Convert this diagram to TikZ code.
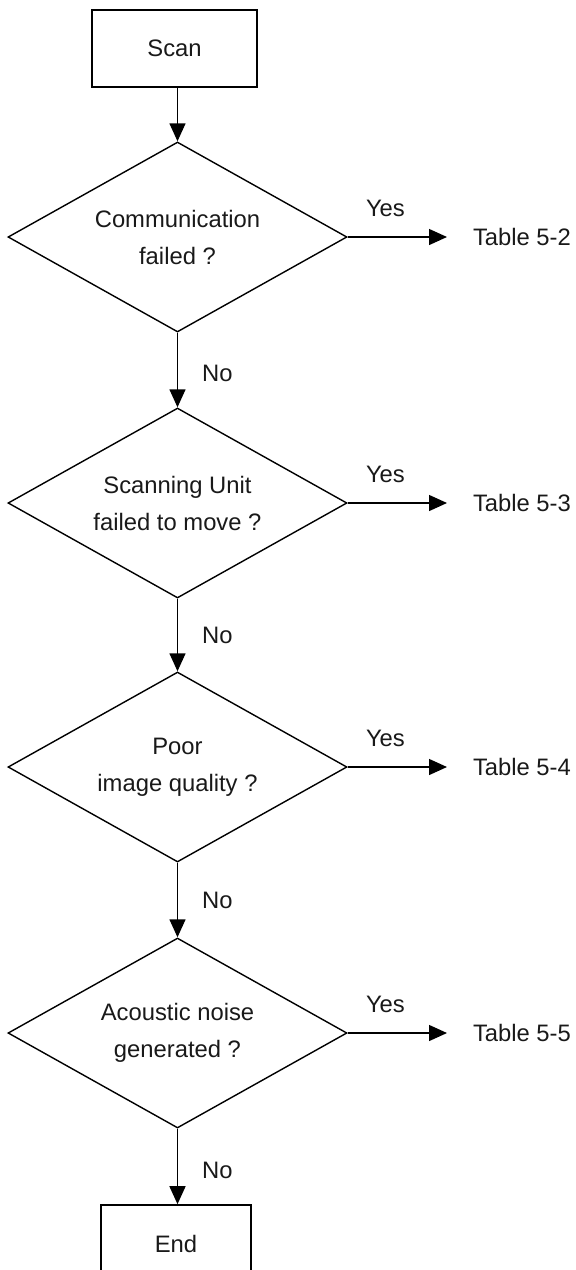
\documentclass[tikz,border=0pt]{standalone}
\usepackage{fontspec}
\setmainfont{Liberation Sans}
\usepackage{tikz}
\usetikzlibrary{arrows.meta, positioning, shapes.geometric}

\begin{document}
\begin{tikzpicture}[x=0.5pt, y=-0.5pt,
    every node/.style={font=\fontsize{11.9}{18.5}\selectfont, text=black!90},
    proc/.style={rectangle, draw, line width=0.8pt, minimum width=82.5pt, minimum height=38.5pt, inner sep=0pt},
    decision/.style={diamond, draw, line width=0.7pt, aspect=1.8, minimum width=169.5pt, minimum height=95pt, inner sep=0pt, align=center},
    tbl/.style={anchor=west, inner xsep=13pt, inner ysep=0pt, outer sep=0pt},
    lbl/.style={inner sep=0pt},
    flow/.style={line width=0.7pt, -{Triangle[length=9pt, width=8pt]}}]
    \useasboundingbox (0,0) rectangle (576,1270);
    \clip (0,0) rectangle (576,1270);

    \node[proc] (scan) at (174.5, 48.5) {Scan};
    \node[decision] (d1) at (177.5, 237) {Communication\\failed ?};
    \node[decision] (d2) at (177.5, 503) {Scanning Unit\\failed to move ?};
    \node[decision] (d3) at (177.5, 767) {Poor\\image quality ?};
    \node[decision] (d4) at (177.5, 1033) {Acoustic noise\\generated ?};
    \node[proc, minimum width=75pt] (end) at (176, 1243.5) {End};

    \node[tbl] (t2) at (447, 237) {Table 5-2};
    \node[tbl] (t3) at (447, 503) {Table 5-3};
    \node[tbl] (t4) at (447, 767) {Table 5-4};
    \node[tbl] (t5) at (447, 1033) {Table 5-5};

    \draw[flow] (scan.south -| d1.north) -- (d1.north);
    \draw[flow] (d1) -- node[lbl, right=12pt, pos=0.55] {No} (d2);
    \draw[flow] (d2) -- node[lbl, right=12pt, pos=0.5] {No} (d3);
    \draw[flow] (d3) -- node[lbl, right=12pt, pos=0.5] {No} (d4);
    \draw[flow] (d4.south) -- node[lbl, right=12pt, pos=0.55] {No} (d4.south |- end.north);

    \draw[flow] (d1.east) -- node[lbl, above=10pt, pos=0.38] {Yes} (t2);
    \draw[flow] (d2.east) -- node[lbl, above=10pt, pos=0.38] {Yes} (t3);
    \draw[flow] (d3.east) -- node[lbl, above=10pt, pos=0.38] {Yes} (t4);
    \draw[flow] (d4.east) -- node[lbl, above=10pt, pos=0.38] {Yes} (t5);
\end{tikzpicture}
\end{document}
